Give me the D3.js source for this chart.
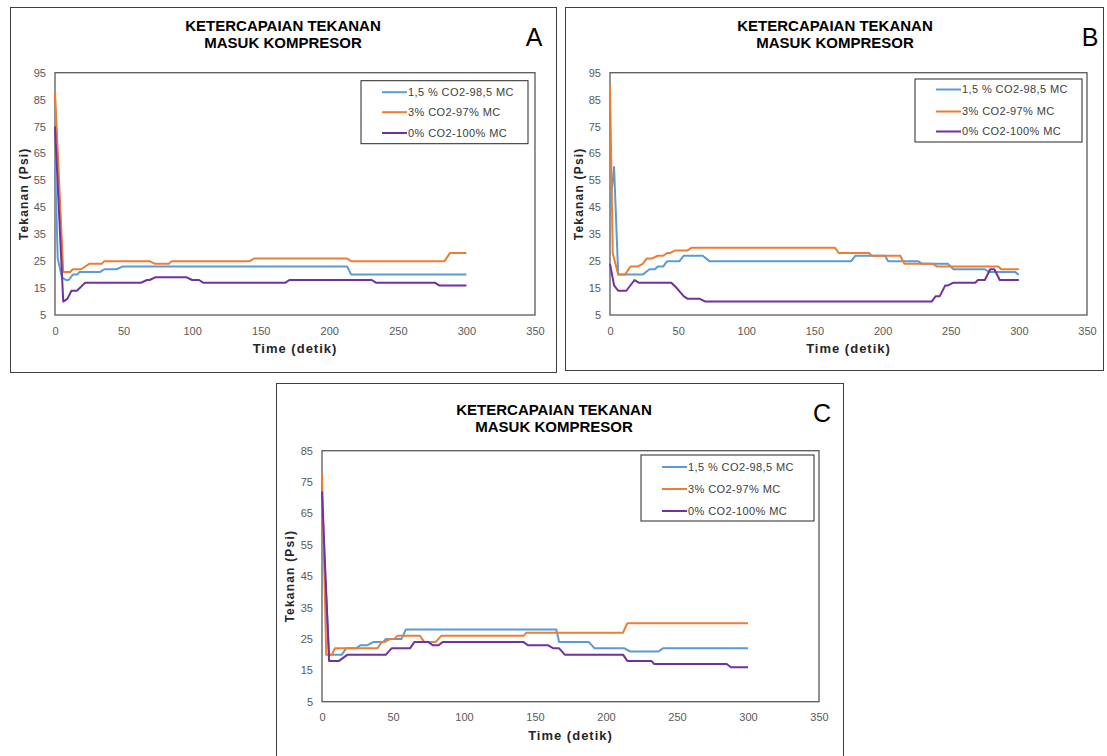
<!DOCTYPE html>
<html>
<head>
<meta charset="utf-8">
<script src="https://cdn.jsdelivr.net/npm/d3@7"></script>
<style>
  body { margin: 0; background: #fff; }
  text { font-family: "Liberation Sans", Arial, sans-serif; }
</style>
</head>
<body>
<div id="chart"></div>
<script>
// series labels and colours (same for the three panels)
const seriesNames = ['1,5 % CO2-98,5 MC', '3% CO2-97% MC', '0% CO2-100% MC'];
const seriesColors = ['#5B9BD5', '#ED7D31', '#7030A0'];
const xTicks = [0, 50, 100, 150, 200, 250, 300, 350];
const yTicksAB = [5, 15, 25, 35, 45, 55, 65, 75, 85, 95];
const yTicksC = [5, 15, 25, 35, 45, 55, 65, 75, 85];

// [time (detik), tekanan (psi)]
const blueA = [[0,62],[2,26],[5,19],[8,18],[10,18],[13,20],[16,20],[18,21],[33,21],[36,22],[45,22],[49,23],[213,23],[216,20],[300,20]];
const orangeA = [[0,88],[6,21],[11,21],[13,22],[19,22],[25,24],[34,24],[36,25],[69,25],[73,24],[83,24],[85,25],[142,25],[145,26],[213,26],[216,25],[284,25],[288,28],[300,28]];
const purpleA = [[0,75],[6,10],[9,11],[12,14],[16,14],[20,16],[22,17],[63,17],[67,18],[69,18],[73,19],[96,19],[100,18],[105,18],[108,17],[168,17],[171,18],[231,18],[234,17],[277,17],[280,16],[300,16]];

const blueB = [[0,45],[3,60],[6,20],[24,20],[29,22],[33,22],[35,23],[39,23],[42,25],[51,25],[54,27],[68,27],[73,25],[177,25],[180,27],[202,27],[204,25],[226,25],[229,24],[248,24],[252,22],[275,22],[278,21],[297,21],[300,20]];
const orangeB = [[0,90],[2,28],[6,20],[11,20],[15,23],[20,23],[24,24],[27,26],[31,26],[35,27],[39,27],[42,28],[44,28],[48,29],[57,29],[60,30],[165,30],[168,28],[190,28],[192,27],[213,27],[216,24],[237,24],[240,23],[285,23],[287,22],[300,22]];
const purpleB = [[0,24],[3,16],[6,14],[12,14],[18,18],[21,17],[45,17],[49,15],[54,12],[57,11],[66,11],[70,10],[236,10],[239,12],[242,12],[246,16],[248,16],[252,17],[268,17],[270,18],[275,18],[279,22],[282,22],[286,18],[300,18]];

const blueC = [[0,65],[5,20],[14,20],[17,22],[24,22],[27,23],[32,23],[36,24],[43,24],[45,25],[56,25],[59,28],[165,28],[167,24],[188,24],[192,22],[213,22],[217,21],[237,21],[240,22],[300,22]];
const orangeC = [[0,78],[3,20],[7,20],[9,22],[39,22],[42,24],[44,24],[48,25],[51,25],[53,26],[69,26],[72,24],[80,24],[84,26],[142,26],[144,27],[212,27],[215,30],[300,30]];
const purpleC = [[0,72],[5,18],[12,18],[18,20],[45,20],[49,22],[62,22],[65,24],[75,24],[78,23],[82,23],[85,24],[142,24],[145,23],[159,23],[163,22],[167,22],[171,20],[212,20],[215,18],[232,18],[234,17],[285,17],[288,16],[300,16]];

const svg = d3.select('#chart').append('svg')
  .attr('width', 1107)
  .attr('height', 756);

// positions of each panel on the page
const panels = [
  { tag: 'A', series: [blueA, orangeA, purpleA], yTicks: yTicksAB,
    frame: { x: 10, y: 7, w: 546, h: 365 },
    plot: { l: 55, t: 72.7, r: 535, b: 315 },
    title: { x: 283, y: 31 }, label: { x: 534, y: 46 },
    legend: { x: 361, y: 80.7, w: 167, h: 63, rows: [11.5, 31.5, 52.3] },
    yLabelX: 24 },
  { tag: 'B', series: [blueB, orangeB, purpleB], yTicks: yTicksAB,
    frame: { x: 565, y: 7, w: 538, h: 363 },
    plot: { l: 610, t: 72.7, r: 1087, b: 315 },
    title: { x: 835, y: 31 }, label: { x: 1090, y: 46 },
    legend: { x: 915, y: 79, w: 167, h: 63, rows: [10.5, 32.5, 52.5] },
    yLabelX: 579 },
  { tag: 'C', series: [blueC, orangeC, purpleC], yTicks: yTicksC,
    frame: { x: 276, y: 383, w: 567, h: 380 },
    plot: { l: 322, t: 450.7, r: 819, b: 701.7 },
    title: { x: 554, y: 415 }, label: { x: 822, y: 422 },
    legend: { x: 641, y: 455, w: 173, h: 66, rows: [12, 34, 56] },
    yLabelX: 290 }
];

function drawPanel(p) {
  const g = svg.append('g');

  g.append('rect')
    .attr('x', p.frame.x + 0.5).attr('y', p.frame.y + 0.5)
    .attr('width', p.frame.w).attr('height', p.frame.h)
    .attr('fill', '#fff').attr('stroke', '#3f3f3f').attr('stroke-width', 1);

  const x = d3.scaleLinear().domain([0, 350]).range([p.plot.l, p.plot.r]);
  const y = d3.scaleLinear()
    .domain([p.yTicks[0], p.yTicks[p.yTicks.length - 1]])
    .range([p.plot.b, p.plot.t]);

  // y axis labels
  const yAxis = g.append('g')
    .attr('transform', `translate(${p.plot.l - 2},0)`)
    .call(d3.axisLeft(y).tickValues(p.yTicks).tickSize(0).tickPadding(7));
  yAxis.select('.domain').remove();
  yAxis.selectAll('text').attr('fill', '#595959').style('font-size', '11px');

  // x axis labels
  const xAxis = g.append('g')
    .attr('transform', `translate(0,${p.plot.b})`)
    .call(d3.axisBottom(x).tickValues(xTicks).tickSize(0).tickPadding(12));
  xAxis.select('.domain').remove();
  xAxis.selectAll('text').attr('fill', '#595959').style('font-size', '11px');

  // plot area border
  g.append('rect')
    .attr('x', p.plot.l).attr('y', p.plot.t)
    .attr('width', p.plot.r - p.plot.l).attr('height', p.plot.b - p.plot.t)
    .attr('fill', 'none').attr('stroke', '#595959').attr('stroke-width', 1.3);

  const line = d3.line().x(d => x(d[0])).y(d => y(d[1]));
  g.selectAll('path.series')
    .data(p.series)
    .join('path')
    .attr('class', 'series')
    .attr('d', line)
    .attr('fill', 'none')
    .attr('stroke', (d, i) => seriesColors[i])
    .attr('stroke-width', 2)
    .attr('stroke-linejoin', 'round');

  // title
  g.append('text')
    .attr('x', p.title.x).attr('y', p.title.y)
    .attr('text-anchor', 'middle')
    .style('font-size', '15px').style('font-weight', 'bold')
    .text('KETERCAPAIAN TEKANAN');
  g.append('text')
    .attr('x', p.title.x).attr('y', p.title.y + 17)
    .attr('text-anchor', 'middle')
    .style('font-size', '15px').style('font-weight', 'bold')
    .text('MASUK KOMPRESOR');

  g.append('text')
    .attr('x', p.label.x).attr('y', p.label.y)
    .attr('text-anchor', 'middle')
    .style('font-size', '25px')
    .text(p.tag);

  // axis titles
  g.append('text')
    .attr('transform', `translate(${p.yLabelX + 4},${(p.plot.t + p.plot.b) / 2}) rotate(-90)`)
    .attr('text-anchor', 'middle')
    .style('font-size', '12px').style('font-weight', 'bold')
    .style('letter-spacing', '1.2px')
    .attr('fill', '#262626')
    .text('Tekanan  (Psi)');
  g.append('text')
    .attr('x', (p.plot.l + p.plot.r) / 2).attr('y', p.plot.b + 38)
    .attr('text-anchor', 'middle')
    .style('font-size', '13px').style('font-weight', 'bold')
    .style('letter-spacing', '1px')
    .attr('fill', '#262626')
    .text('Time  (detik)');

  // legend
  const lg = g.append('g').attr('transform', `translate(${p.legend.x},${p.legend.y})`);
  lg.append('rect')
    .attr('width', p.legend.w).attr('height', p.legend.h)
    .attr('fill', '#fff').attr('stroke', '#262626').attr('stroke-width', 1);
  const item = lg.selectAll('g.item')
    .data(seriesNames)
    .join('g')
    .attr('class', 'item')
    .attr('transform', (d, i) => `translate(0,${p.legend.rows[i]})`);
  item.append('line')
    .attr('x1', 21).attr('x2', 46)
    .attr('stroke', (d, i) => seriesColors[i]).attr('stroke-width', 2);
  item.append('text')
    .attr('x', 47).attr('dy', '0.35em')
    .style('font-size', '11px').style('letter-spacing', '0.4px')
    .attr('fill', '#404040')
    .text(d => d);
}

panels.forEach(drawPanel);
</script>
</body>
</html>
